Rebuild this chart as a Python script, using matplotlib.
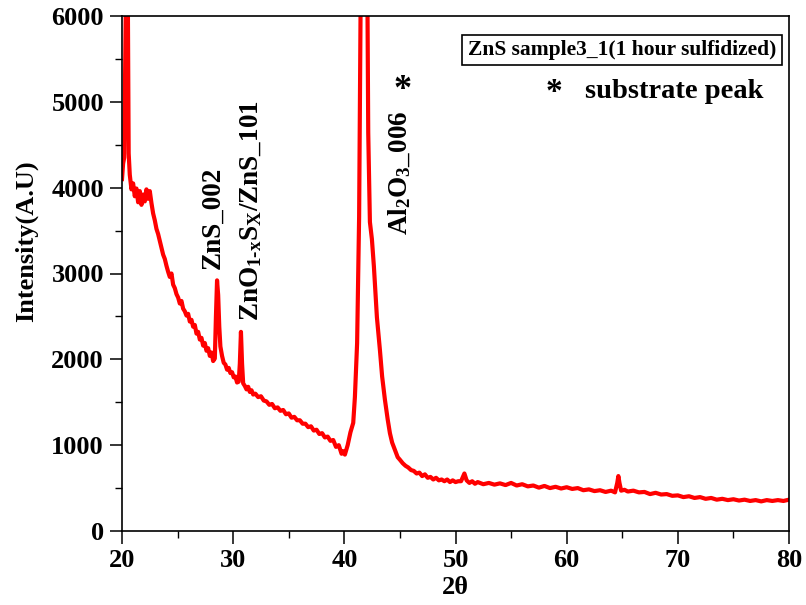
import matplotlib
matplotlib.use("Agg")
import matplotlib.pyplot as plt
from matplotlib.ticker import MultipleLocator

two_theta = [
    20.00, 20.10, 20.20, 20.30, 20.40, 20.50, 20.60, 20.70, 20.85, 21.00,
    21.15, 21.30, 21.45, 21.60, 21.75, 21.90, 22.05, 22.20, 22.35, 22.50,
    22.65, 22.80, 22.95, 23.10, 23.25, 23.40, 23.55, 23.70, 23.85, 24.00,
    24.15, 24.30, 24.45, 24.60, 24.75, 24.90, 25.05, 25.20, 25.35, 25.50,
    25.65, 25.80, 25.95, 26.10, 26.25, 26.40, 26.55, 26.70, 26.85, 27.00,
    27.15, 27.30, 27.45, 27.60, 27.75, 27.90, 28.05, 28.20, 28.35, 28.45,
    28.55, 28.65, 28.75, 28.85, 29.00, 29.15, 29.30, 29.45, 29.60, 29.75,
    29.90, 30.05, 30.20, 30.35, 30.50, 30.60, 30.70, 30.80, 30.90, 31.05,
    31.20, 31.35, 31.50, 31.65, 31.80, 32.00, 32.25, 32.50, 32.75, 33.00,
    33.25, 33.50, 33.75, 34.00, 34.25, 34.50, 34.75, 35.00, 35.25, 35.50,
    35.75, 36.00, 36.25, 36.50, 36.75, 37.00, 37.25, 37.50, 37.75, 38.00,
    38.25, 38.50, 38.75, 39.00, 39.25, 39.50, 39.75, 39.90, 40.05, 40.30,
    40.55, 40.80, 40.95, 41.15, 41.33, 41.50, 41.75, 42.05, 42.15, 42.30,
    42.48, 42.66, 42.93, 43.20, 43.40, 43.65, 43.90, 44.10, 44.30, 44.55,
    44.80, 45.00, 45.25, 45.50, 45.75, 46.00, 46.25, 46.50, 46.75, 47.00,
    47.25, 47.50, 47.75, 48.00, 48.25, 48.50, 48.75, 49.00, 49.25, 49.50,
    49.75, 50.00, 50.25, 50.50, 50.80, 51.00, 51.25, 51.50, 51.75, 52.00,
    52.50, 53.00, 53.50, 54.00, 54.50, 55.00, 55.50, 56.00, 56.50, 57.00,
    57.50, 58.00, 58.50, 59.00, 59.50, 60.00, 60.50, 61.00, 61.50, 62.00,
    62.50, 63.00, 63.50, 64.00, 64.35, 64.55, 64.65, 64.75, 64.90, 65.20,
    65.50, 66.00, 66.50, 67.00, 67.50, 68.00, 68.50, 69.00, 69.50, 70.00,
    70.50, 71.00, 71.50, 72.00, 72.50, 73.00, 73.50, 74.00, 74.50, 75.00,
    75.50, 76.00, 76.50, 77.00, 77.50, 78.00, 78.50, 79.00, 79.50, 80.00,
]
intensity = [
    4100, 4280, 4350, 5600, 6800, 6800, 4400, 4150, 3980, 4050,
    3900, 3990, 3830, 3960, 3800, 3920, 3840, 3980, 3870, 3960,
    3820, 3700, 3620, 3520, 3460, 3380, 3300, 3220, 3170, 3090,
    3020, 2960, 3000, 2870, 2830, 2760, 2720, 2650, 2680, 2590,
    2560, 2510, 2530, 2440, 2460, 2380, 2400, 2300, 2320, 2230,
    2250, 2160, 2190, 2100, 2130, 2040, 2080, 1980, 2010, 2500,
    2920, 2750, 2380, 2150, 2040, 1960, 1940, 1880, 1900, 1840,
    1850, 1790, 1800, 1730, 1740, 1950, 2320, 1950, 1720, 1690,
    1650, 1680, 1620, 1640, 1590, 1600, 1560, 1570, 1520, 1510,
    1470, 1480, 1430, 1440, 1400, 1410, 1360, 1370, 1320, 1330,
    1290, 1290, 1250, 1250, 1210, 1220, 1170, 1180, 1130, 1140,
    1090, 1100, 1050, 1060, 980, 1000, 900, 930, 890, 1000,
    1150, 1260, 1560, 2190, 3660, 6800, 9000, 6800, 4640, 3600,
    3400, 3080, 2490, 2110, 1800, 1530, 1300, 1140, 1030, 945,
    860, 830, 790, 760, 740, 710, 700, 670, 680, 640,
    660, 620, 630, 600, 620, 590, 600, 580, 600, 570,
    590, 570, 580, 580, 670, 590, 560, 580, 550, 570,
    545, 560, 540, 555, 535, 560, 530, 545, 520, 530,
    505, 525, 500, 515, 495, 510, 490, 500, 475, 485,
    465, 475, 455, 470, 450, 560, 640, 560, 470, 480,
    460, 470, 450, 455, 430, 445, 425, 430, 410, 415,
    395, 405, 385, 395, 375, 385, 365, 375, 360, 370,
    355, 365, 350, 360, 345, 360, 350, 360, 350, 365,
]

x_ticks = [20, 30, 40, 50, 60, 70, 80]
y_ticks = [0, 1000, 2000, 3000, 4000, 5000, 6000]

plt.rcParams['font.family'] = ['Liberation Serif', 'DejaVu Serif']
plt.rcParams['font.weight'] = 'bold'
plt.rcParams['mathtext.fontset'] = 'custom'
plt.rcParams['mathtext.rm'] = 'Liberation Serif:bold'
plt.rcParams['mathtext.it'] = 'Liberation Serif:bold'
plt.rcParams['mathtext.bf'] = 'Liberation Serif:bold'

fig = plt.figure(figsize=(8.06, 6.05), dpi=100)
ax = fig.add_axes([122/806, 1 - 531/605, (789-122)/806, (531-16)/605])

ax.plot(two_theta, intensity, color='#ff0000', lw=3.0)

ax.set_xlim(20, 80)
ax.set_ylim(0, 6000)
ax.set_xticks(x_ticks)
ax.set_yticks(y_ticks)
ax.xaxis.set_minor_locator(MultipleLocator(5))
ax.yaxis.set_minor_locator(MultipleLocator(500))
ax.tick_params(which='major', direction='out', length=9, width=1.1, labelsize=19, pad=4)
ax.tick_params(which='both', axis='x', pad=4)
ax.tick_params(which='minor', direction='out', length=5, width=1.0)
for lab in ax.get_xticklabels() + ax.get_yticklabels():
    lab.set_fontweight('bold')
for s in ax.spines.values():
    s.set_linewidth(1.2)

ax.set_xlabel('2θ', fontsize=19, fontweight='bold', labelpad=3)
fig.text(26/806, 1 - 241/605, 'Intensity(A.U)', rotation=90, fontsize=19,
         fontweight='bold', ha='center', va='center')

ax.text(28.2, 3050, 'ZnS_002', rotation=90, fontsize=19.5, fontweight='bold',
        ha='center', va='bottom')
ax.text(31.6, 2450, r'ZnO$_{1\text{-}x}$S$_X$/ZnS_101', rotation=90, fontsize=19.5,
        fontweight='bold', ha='center', va='bottom')
ax.text(44.95, 3450, r'Al$_2$O$_3$_006', rotation=90, fontsize=19.5, fontweight='bold',
        ha='center', va='bottom')
ax.text(45.2, 5130, '*', fontsize=26, fontweight='bold', ha='center', va='center')

fig.text(622/806, 1 - 50/605, 'ZnS sample3_1(1 hour sulfidized)', fontsize=15.5,
         fontweight='bold', ha='center', va='center',
         bbox=dict(boxstyle='square,pad=0.25', fc='white', ec='black', lw=1.2))
fig.text(546/806, 1 - 92/605, '*', fontsize=24,
         fontweight='bold', ha='left', va='center')
fig.text(585/806, 1 - 92/605, 'substrate peak', fontsize=20.5,
         fontweight='bold', ha='left', va='center')

fig.savefig('out.png', dpi=100)
